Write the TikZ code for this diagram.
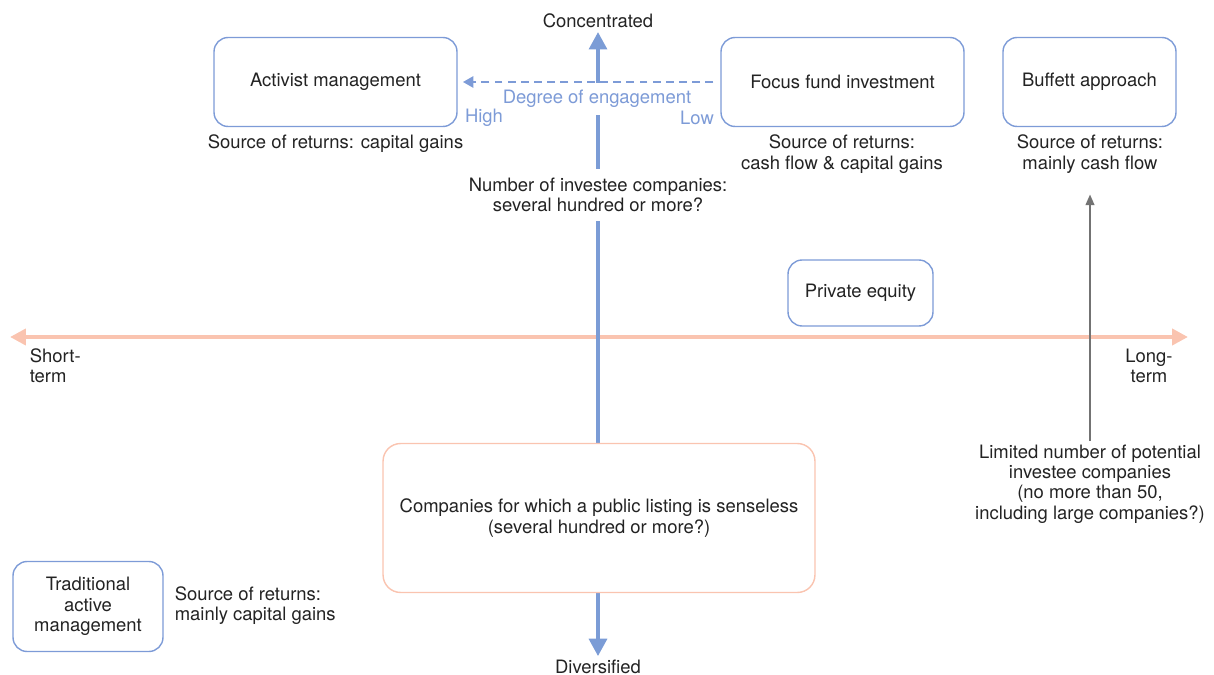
\documentclass[tikz,border=0pt]{standalone}
\usepackage{fontspec}
\setmainfont{TeX Gyre Heros}
\usetikzlibrary{arrows.meta,backgrounds}
\definecolor{boxblue}{RGB}{125,155,215}
\definecolor{axisblue}{RGB}{123,156,214}
\definecolor{peach}{RGB}{250,196,176}
\definecolor{darktext}{RGB}{35,35,35}
\definecolor{arrowgray}{RGB}{115,115,115}
\tikzset{
  approach/.style={draw=boxblue, line width=0.8pt, rounded corners=8pt, fill=white,
    align=center, text=darktext},
  label/.style={align=center, text=darktext, inner sep=2pt},
  engage/.style={text=boxblue, inner sep=2pt}
}
\begin{document}
\begin{tikzpicture}[x=0.02cm, y=-0.02cm, font=\fontsize{10.5}{11.6}\selectfont]
\useasboundingbox (0,0) rectangle (1214,675);

% Anlagestile
\node[approach, minimum width=4.86cm, minimum height=1.78cm] (activist) at (335.5,82) {Activist management};
\node[approach, minimum width=4.86cm, minimum height=1.78cm] (focus) at (842.5,82) {Focus fund investment};
\node[approach, minimum width=3.46cm, minimum height=1.78cm] (buffett) at (1089.5,82) {Buffett approach};
\node[approach, minimum width=2.9cm, minimum height=1.32cm] (pe) at (860.5,293) {Private equity};
\node[approach, draw=peach, rounded corners=10pt, minimum width=8.64cm, minimum height=2.98cm] (unlisted) at (599,518)
  {Companies for which a public listing is senseless\\(several hundred or more?)};
\node[approach, minimum width=3cm, minimum height=1.8cm] (traditional) at (88,606.5) {Traditional\\active\\management};

% Ertragsquellen
\node[label] (srcactivist) at (335.5,144) {Source of returns: capital gains};
\node[label] (srcfocus) at (842,154) {Source of returns:\\cash flow \& capital gains};
\node[label] (srcbuffett) at (1090,154) {Source of returns:\\mainly cash flow};
\node[label, align=left, anchor=west] (srctrad) at (171,605.5) {Source of returns:\\mainly capital gains};

% Achsen
\node[label] (conc) at (598,21) {Concentrated};
\node[label] (div) at (598,667) {Diversified};
\node[label, fill=white, inner sep=5pt] (number) at (598,195) {Number of investee companies:\\several hundred or more?};
\node[label, align=left, anchor=west] (short) at (26,366) {Short-\\term};
\node[label] (long) at (1149,366) {Long-\\term};
\node[label] (limited) at (1090,484) {Limited number of potential\\investee companies\\(no more than 50,\\including large companies?)};
\coordinate (lefttip) at (10,337);
\coordinate (righttip) at (1188,337);

% Engagement
\node[engage, fill=white, inner ysep=4pt] (degree) at (597,99) {Degree of engagement};
\node[engage] (high) at (484,118) {High};
\node[engage] (low) at (697,118) {Low};

\begin{scope}[on background layer]
\draw[peach, line width=2.4pt, {Triangle[width=9pt,length=9pt]}-{Triangle[width=9pt,length=9pt]}] (lefttip) -- (righttip);
\draw[boxblue, line width=1.1pt, dash pattern=on 4.5pt off 3pt, -{Triangle[width=6.5pt,length=6pt]},
  shorten <=4pt, shorten >=3pt] (focus.west) -- (activist.east);
\draw[arrowgray, line width=0.9pt, -{Triangle[width=5pt,length=6pt]}, shorten >=10pt] (limited.north) -- (srcbuffett.south);
\draw[axisblue, line width=2.8pt, {Triangle[width=10pt,length=10pt]}-{Triangle[width=10pt,length=10pt]}] (div.north) -- (conc.south);
\end{scope}
\end{tikzpicture}
\end{document}
